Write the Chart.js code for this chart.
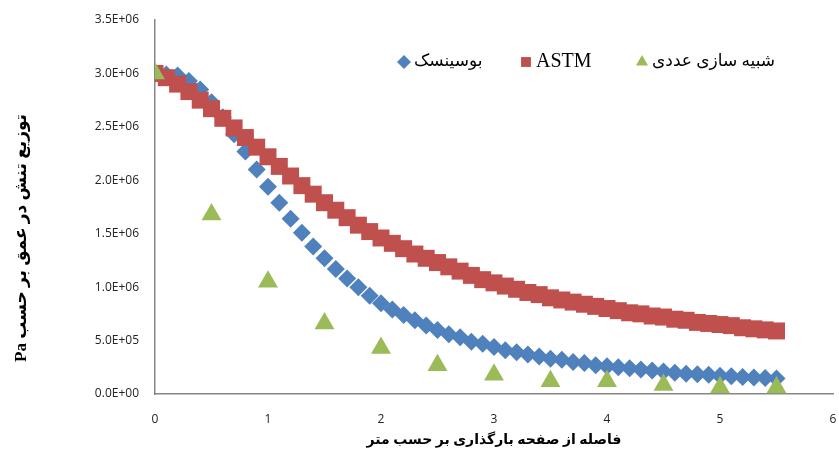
<!DOCTYPE html>
<html>
<head>
<meta charset="utf-8">
<script src="https://cdn.jsdelivr.net/npm/chart.js@4.4.0/dist/chart.umd.min.js"></script>
<style>
  html, body { margin: 0; padding: 0; background: #fff; }
  #wrap { width: 839px; height: 464px; position: relative; }
</style>
</head>
<body>
<div id="wrap"><canvas id="stressChart"></canvas></div>
<script>
// depth below the loaded plate (m), step 0.1
const depth = [0, 0.1, 0.2, 0.3, 0.4, 0.5, 0.6, 0.7, 0.8, 0.9,
  1.0, 1.1, 1.2, 1.3, 1.4, 1.5, 1.6, 1.7, 1.8, 1.9,
  2.0, 2.1, 2.2, 2.3, 2.4, 2.5, 2.6, 2.7, 2.8, 2.9,
  3.0, 3.1, 3.2, 3.3, 3.4, 3.5, 3.6, 3.7, 3.8, 3.9,
  4.0, 4.1, 4.2, 4.3, 4.4, 4.5, 4.6, 4.7, 4.8, 4.9,
  5.0, 5.1, 5.2, 5.3, 5.4, 5.5];

// Boussinesq (Pa)
const boussinesq = [3.00e6, 2.99e6, 2.98e6, 2.93e6, 2.85e6, 2.73e6, 2.59e6, 2.43e6, 2.27e6, 2.10e6,
  1.94e6, 1.79e6, 1.64e6, 1.51e6, 1.38e6, 1.27e6, 1.17e6, 1.08e6, 1.00e6, 0.92e6,
  0.85e6, 0.79e6, 0.74e6, 0.69e6, 0.64e6, 0.60e6, 0.56e6, 0.53e6, 0.49e6, 0.47e6,
  0.44e6, 0.41e6, 0.39e6, 0.37e6, 0.35e6, 0.33e6, 0.32e6, 0.30e6, 0.29e6, 0.27e6,
  0.26e6, 0.25e6, 0.24e6, 0.23e6, 0.22e6, 0.21e6, 0.20e6, 0.19e6, 0.185e6, 0.18e6,
  0.17e6, 0.165e6, 0.16e6, 0.155e6, 0.15e6, 0.145e6];

// ASTM (Pa)
const astm = [3.00e6, 2.96e6, 2.90e6, 2.83e6, 2.75e6, 2.67e6, 2.58e6, 2.49e6, 2.40e6, 2.31e6,
  2.22e6, 2.13e6, 2.04e6, 1.95e6, 1.87e6, 1.79e6, 1.72e6, 1.65e6, 1.58e6, 1.52e6,
  1.46e6, 1.41e6, 1.36e6, 1.31e6, 1.27e6, 1.23e6, 1.19e6, 1.15e6, 1.11e6, 1.07e6,
  1.04e6, 1.01e6, 0.98e6, 0.95e6, 0.93e6, 0.90e6, 0.88e6, 0.86e6, 0.84e6, 0.82e6,
  0.80e6, 0.78e6, 0.76e6, 0.75e6, 0.73e6, 0.72e6, 0.70e6, 0.69e6, 0.67e6, 0.66e6,
  0.65e6, 0.64e6, 0.62e6, 0.61e6, 0.60e6, 0.59e6];

// numerical simulation, every 0.5 m
const simDepth = [0, 0.5, 1.0, 1.5, 2.0, 2.5, 3.0, 3.5, 4.0, 4.5, 5.0, 5.5];
const simulation = [3.00e6, 1.68e6, 1.05e6, 0.66e6, 0.43e6, 0.27e6, 0.18e6, 0.12e6, 0.12e6, 0.085e6, 0.06e6, 0.06e6];

const seriesNames = ['بوسینسک', 'ASTM', 'شبیه سازی عددی'];
const xTitle = 'فاصله از صفحه بارگذاری بر حسب متر';
const yTitle = 'توزیع تنش در عمق بر حسب Pa';

function toPoints(xs, ys) {
  return xs.map((x, i) => ({ x: x, y: ys[i] }));
}

// 3.5E+06 style labels
function sciLabel(v) {
  if (v === 0) return '0.0E+00';
  const e = Math.floor(Math.log10(Math.abs(v)) + 1e-9);
  const m = v / Math.pow(10, e);
  return m.toFixed(1) + 'E' + (e < 0 ? '-' : '+') + String(Math.abs(e)).padStart(2, '0');
}

const axisColor = '#868686';
const tickFont = { family: '"Open Sans", sans-serif', size: 12 };
const serifFamily = '"Liberation Serif", "DejaVu Sans", serif';

// legend sits inside the plot, and the y title sits a bit low, like the Excel original
const excelExtras = {
  id: 'excelExtras',
  afterDatasetsDraw(chart) {
    const c = chart.ctx;
    const xs = [404, 526, 642];   // legend marker centres
    const y = 62;
    c.save();
    c.textBaseline = 'middle';
    c.textAlign = 'left';
    chart.data.datasets.forEach((ds, i) => {
      c.fillStyle = ds.backgroundColor;
      Chart.helpers.drawPoint(c, { pointStyle: ds.pointStyle, radius: 7, borderWidth: 0 }, xs[i], y);
      // latin label is set a bit larger in the original
      const size = /[A-Za-z]/.test(ds.label) ? 20 : 17;
      c.font = size + 'px ' + serifFamily;
      c.fillStyle = '#000';
      c.fillText(ds.label, xs[i] + 10, y);
    });

    // rotated y axis title (RTL embedding keeps "Pa" at the bottom)
    c.translate(22, 238);
    c.rotate(-Math.PI / 2);
    c.textAlign = 'center';
    c.font = 'bold 17px ' + serifFamily;
    c.fillText('\u202B' + yTitle + '\u202C', 0, 0);
    c.restore();
  }
};

const ctx = document.getElementById('stressChart').getContext('2d');
const chart = new Chart(ctx, {
  type: 'scatter',
  data: {
    datasets: [
      {
        label: seriesNames[0],
        data: toPoints(depth, boussinesq),
        pointStyle: 'rectRot',
        pointRadius: 9,
        backgroundColor: '#4F81BD',
        borderColor: '#4F81BD',
        borderWidth: 0,
        order: 3
      },
      {
        label: seriesNames[1],
        data: toPoints(depth, astm),
        pointStyle: 'rect',
        pointRadius: 12,
        backgroundColor: '#C0504D',
        borderColor: '#C0504D',
        borderWidth: 0,
        order: 2
      },
      {
        label: seriesNames[2],
        data: toPoints(simDepth, simulation),
        pointStyle: 'triangle',
        pointRadius: 11.5,
        backgroundColor: '#9BBB59',
        borderColor: '#9BBB59',
        borderWidth: 0,
        order: 1
      }
    ]
  },
  options: {
    responsive: true,
    maintainAspectRatio: false,
    animation: false,
    layout: { autoPadding: false, padding: { top: 20, right: 6, bottom: 0, left: 0 } },
    plugins: {
      tooltip: { enabled: false },
      legend: { display: false }
    },
    scales: {
      x: {
        type: 'linear',
        min: 0,
        max: 6,
        border: { color: axisColor, width: 1.5 },
        grid: { display: false, drawTicks: false },
        ticks: { stepSize: 1, padding: 18, color: '#222', font: tickFont },
        title: { display: true, text: xTitle, color: '#000', font: { family: serifFamily, size: 14, weight: 'bold' }, padding: { top: 0, bottom: 15 } },
        afterFit(scale) {
          scale.height = 70;
          scale.paddingLeft = 0;
          scale.paddingRight = 0;
        }
      },
      y: {
        type: 'linear',
        min: 0,
        max: 3.5e6,
        border: { color: axisColor, width: 1.5 },
        grid: { display: false, drawTicks: false },
        ticks: { stepSize: 5e5, padding: 16, color: '#222', font: tickFont, callback: (v) => sciLabel(v) },
        title: { display: false },
        afterFit(scale) {
          scale.width = 155;
          scale.paddingTop = 0;
          scale.paddingBottom = 0;
        }
      }
    }
  },
  plugins: [excelExtras]
});
</script>
</body>
</html>
